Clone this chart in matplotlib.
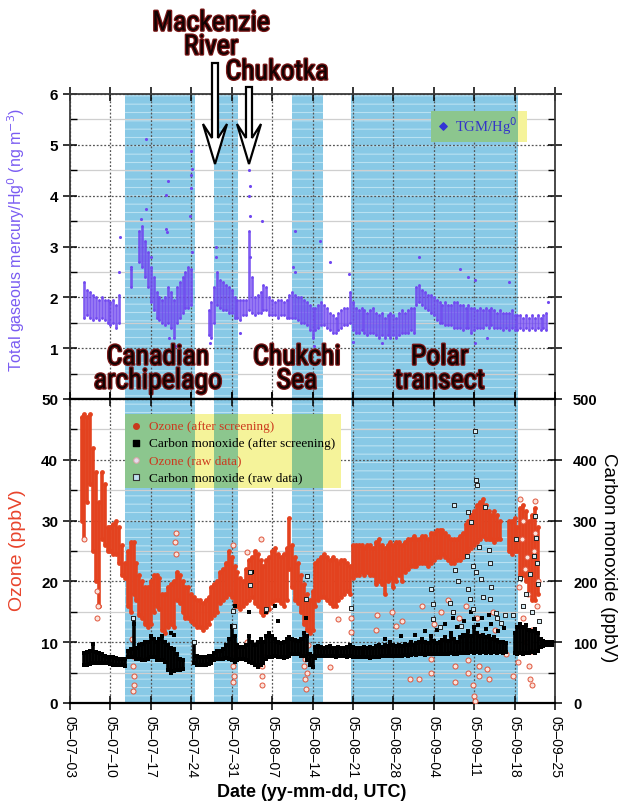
import matplotlib
matplotlib.use("Agg")
import matplotlib.pyplot as plt
import matplotlib.patheffects as pe
from matplotlib.patches import Rectangle, FancyArrow
from matplotlib.ticker import MultipleLocator
from matplotlib import font_manager
from matplotlib.font_manager import FontProperties

_names = {f.name for f in font_manager.fontManager.ttflist}
SANS = "Liberation Sans" if "Liberation Sans" in _names else "DejaVu Sans"
SERIF = "Liberation Serif" if "Liberation Serif" in _names else "DejaVu Serif"

# find a condensed / narrow sans-serif font file for the big annotations
_cond = None
_prefs = ["liberationsansnarrow-regular", "notosans-condensed.", "notosans-condensed",
          "robotocondensed-regular", "robotocondensed", "opensans-condensedregular",
          "opensans_condensed-regular", "opensans-condensed", "notosans-semicondensed.",
          "liberationsansnarrow", "dejavusanscondensed.", "dejavusanscondensed",
          "condensed", "narrow"]
_files = [f.fname for f in font_manager.fontManager.ttflist]
for key in _prefs:
    hits = [p for p in _files if key in p.lower().replace(" ", "")
            and "italic" not in p.lower() and "oblique" not in p.lower()
            and "bold" not in p.lower() and "black" not in p.lower()
            and "light" not in p.lower() and "thin" not in p.lower()]
    if hits:
        _cond = sorted(hits, key=len)[0]
        break
_is_dejavu = _cond is not None and "dejavu" in _cond.lower()


def cond_font(size):
    if _cond is not None:
        return FontProperties(fname=_cond, size=size * (0.86 if _is_dejavu else 1.0))
    return FontProperties(family=[SANS], size=size * 0.8)


plt.rcParams["font.family"] = [SANS, "DejaVu Sans"]
plt.rcParams["hatch.linewidth"] = 0.8

# ---------------- data (x = days since 2005-07-03 00:00 UTC) ----------------
tick_days = [0, 7, 14, 21, 28, 35, 42, 49, 56, 63, 70, 77, 84]
tick_labels = ["05–07–03", "05–07–10", "05–07–17", "05–07–24", "05–07–31",
               "05–08–07", "05–08–14", "05–08–21", "05–08–28", "05–09–04",
               "05–09–11", "05–09–18", "05–09–25"]

region_start = [9.6, 25.0, 38.5, 48.7]
region_end = [21.6, 29.1, 43.9, 77.6]
region_names = ["Canadian\narchipelago", "Chukchi\nSea", "Polar\ntransect"]
region_label_day = [15.2, 39.3, 64.0]

# Total gaseous mercury (ng m-3): observed range per half-day
hg_day = [2.5, 3.0, 3.5, 4.0, 4.5, 5.0, 5.5, 6.0, 6.5, 7.0, 7.5, 8.0, 8.5, 10.5,
          12.0, 12.5, 13.0, 13.5, 14.0, 14.5, 15.0, 15.5, 16.0, 16.5, 17.0, 17.5, 18.0,
          18.5, 19.0, 19.5, 20.0, 20.5, 21.0,
          24.0, 24.5, 25.0, 25.5, 26.0, 26.5, 27.0, 27.5, 28.0, 28.5, 29.0, 29.5, 30.0,
          30.5, 31.0, 31.5, 32.0, 32.5, 33.0, 33.5, 34.0, 34.5, 35.0, 35.5, 36.0, 36.5,
          37.0, 37.5, 38.0, 38.5, 39.0, 39.5, 40.0, 40.5, 41.0, 41.5, 42.0, 42.5, 43.0,
          43.5, 44.0, 44.5, 45.0, 45.5, 46.0, 46.5, 47.0, 47.5, 48.0, 48.5, 49.0, 49.5,
          50.0, 50.5, 51.0, 51.5, 52.0, 52.5, 53.0, 53.5, 54.0, 54.5, 55.0, 55.5, 56.0,
          56.5, 57.0, 57.5, 58.0, 58.5, 59.0, 59.5, 60.0, 60.5, 61.0, 61.5, 62.0, 62.5,
          63.0, 63.5, 64.0, 64.5, 65.0, 65.5, 66.0, 66.5, 67.0, 67.5, 68.0, 68.5, 69.0,
          69.5, 70.0, 70.5, 71.0, 71.5, 72.0, 72.5, 73.0, 73.5, 74.0, 74.5, 75.0, 75.5,
          76.0, 76.5, 77.0, 77.5, 78.0, 78.5, 79.0, 79.5, 80.0, 80.5, 81.0, 81.5, 82.0,
          82.5]
hg_lo = [1.6, 1.65, 1.6, 1.55, 1.6, 1.55, 1.6, 1.55, 1.5, 1.45, 1.5, 1.4, 1.5, 2.2,
         2.7, 2.6, 2.4, 2.2, 1.9, 1.75, 1.6, 1.55, 1.5, 1.45, 1.5, 1.4, 1.2,
         1.5, 1.6, 1.7, 1.8, 1.8, 1.85,
         1.25, 1.2, 1.5, 1.85, 1.8, 1.75, 1.75, 1.7, 1.7, 1.6, 1.6, 1.55, 1.65,
         1.65, 1.75, 1.7, 1.65, 1.7, 1.7, 1.75, 1.75, 1.65, 1.65, 1.65, 1.6, 1.65,
         1.65, 1.6, 1.6, 1.6, 1.6, 1.55, 1.5, 1.5, 1.45, 1.35, 1.2, 1.35, 1.4,
         1.45, 1.45, 1.4, 1.35, 1.3, 1.3, 1.35, 1.4, 1.45, 1.45, 1.5, 1.35, 1.3,
         1.3, 1.35, 1.3, 1.25, 1.3, 1.3, 1.25, 1.2, 1.25, 1.2, 1.25, 1.2, 1.25,
         1.2, 1.25, 1.3, 1.3, 1.3, 1.35, 1.3, 1.85, 1.9, 1.85, 1.8, 1.75, 1.7,
         1.65, 1.55, 1.5, 1.5, 1.45, 1.45, 1.45, 1.4, 1.4, 1.4, 1.35, 1.4, 1.4,
         1.3, 1.35, 1.4, 1.4, 1.4, 1.45, 1.4, 1.45, 1.4, 1.4, 1.4, 1.35, 1.4,
         1.35, 1.4, 1.35, 1.35, 1.4, 1.35, 1.4, 1.35, 1.4, 1.35, 1.4, 1.35, 1.4,
         1.35]
hg_hi = [2.3, 2.15, 2.1, 2.05, 2.0, 1.95, 2.0, 1.95, 1.95, 1.9, 1.95, 1.85, 2.05, 2.55,
         3.3, 3.4, 3.1, 2.9, 2.6, 2.4, 2.1, 2.0, 1.95, 2.0, 2.2, 2.1, 1.95,
         2.2, 2.3, 2.4, 2.5, 2.6, 2.55,
         1.75, 1.9, 2.2, 2.5, 2.35, 2.3, 2.25, 2.2, 2.15, 2.0, 1.95, 1.95, 1.95,
         1.95, 3.3, 2.4, 2.0, 2.05, 2.1, 2.25, 2.2, 2.0, 1.95, 1.9, 1.95, 1.95,
         1.9, 1.95, 2.05, 2.1, 2.05, 2.0, 2.0, 1.95, 1.9, 1.85, 1.8, 1.8, 1.85,
         1.9, 1.85, 1.8, 1.7, 1.65, 1.6, 1.7, 1.75, 1.8, 1.8, 2.1, 1.9, 1.8,
         1.75, 1.8, 1.75, 1.7, 1.75, 1.8, 1.7, 1.65, 1.7, 1.6, 1.65, 1.7, 1.65,
         1.6, 1.7, 1.75, 1.7, 1.75, 1.8, 1.8, 2.2, 2.25, 2.15, 2.1, 2.05, 2.05,
         2.0, 1.95, 1.9, 1.85, 1.9, 1.85, 1.85, 1.9, 1.9, 1.85, 1.85, 1.8, 1.85,
         1.8, 1.8, 1.75, 1.8, 1.75, 1.8, 1.75, 1.8, 1.75, 1.7, 1.75, 1.7, 1.7,
         1.7, 1.75, 1.65, 1.65, 1.65, 1.6, 1.65, 1.6, 1.65, 1.6, 1.65, 1.6, 1.65,
         1.7]
hg_spike_day = [8.65, 8.5, 10.6, 13.2, 13.2, 16.7, 16.9, 16.8, 16.7, 17.2, 18.2, 21.0, 21.0,
                20.9, 20.8, 21.2, 21.1, 24.3, 25.2, 25.3, 29.5, 31.0, 31.0, 31.1, 31.2,
                31.1, 33.3, 38.6, 38.9, 39.0, 42.2, 43.3, 45.0, 48.4, 49.0, 54.0, 60.5,
                67.6, 69.0, 70.1, 70.2, 72.3, 76.1, 82.8, 12.3, 14.0]
hg_spike_val = [3.18, 2.5, 2.6, 5.11, 3.73, 3.35, 4.29, 3.28, 4.01, 1.2, 1.05, 4.88, 4.4,
                4.16, 3.6, 2.9, 4.52, 1.1, 3.0, 2.8, 1.3, 4.5, 4.0, 3.6, 2.8,
                4.2, 3.5, 2.6, 3.3, 2.5, 1.05, 3.1, 2.7, 2.45, 1.12, 1.1, 2.8,
                2.56, 2.4, 2.35, 1.1, 1.2, 2.3, 1.9, 3.55, 2.8]

# Ozone (ppbV): observed range per half-day (screened data)
o3_day = [2.0, 2.5, 3.0, 3.5, 4.0, 4.5, 5.0, 5.5, 6.0, 6.5, 7.0, 7.5, 8.0, 8.5, 9.0, 9.5,
          10.0, 10.5, 11.0, 11.5, 12.0, 12.5, 13.0, 13.5, 14.0, 14.5, 15.0, 15.5, 16.0,
          16.5, 17.0, 17.5, 18.0, 18.5, 19.0, 19.5, 20.0, 20.5, 21.0, 21.5, 22.0, 22.5,
          23.0, 23.5, 24.0, 24.5, 25.0, 25.5, 26.0, 26.5, 27.0, 27.5, 28.0, 28.5, 29.0,
          29.5, 30.0, 30.5, 31.0, 31.5, 32.0, 32.5, 33.0, 33.5, 34.0, 34.5, 35.0, 35.5,
          36.0, 36.5, 37.0, 37.5, 38.0, 38.5, 39.0, 39.5, 40.0, 40.5, 41.0, 41.5, 42.0,
          42.5, 43.0, 43.5, 44.0, 44.5, 45.0, 45.5, 46.0, 46.5, 47.0, 47.5, 48.0, 48.5,
          49.0, 49.5, 50.0, 50.5, 51.0, 51.5, 52.0, 52.5, 53.0, 53.5, 54.0, 54.5, 55.0,
          55.5, 56.0, 56.5, 57.0, 57.5, 58.0, 58.5, 59.0, 59.5, 60.0, 60.5, 61.0, 61.5,
          62.0, 62.5, 63.0, 63.5, 64.0, 64.5, 65.0, 65.5, 66.0, 66.5, 67.0, 67.5, 68.0,
          68.5, 69.0, 69.5, 70.0, 70.5, 71.0, 71.5, 72.0, 72.5, 73.0, 73.5, 74.0, 74.5,
          76.0, 76.5, 77.0, 77.5, 78.0, 78.5, 79.0, 79.5, 80.0, 80.5, 81.0]
o3_lo = [30, 27, 33, 36, 25, 20, 16, 27, 26, 25, 25, 24.5, 24.5, 23, 21, 20.5,
         16, 15, 18, 17, 14.5, 14, 13, 12.5, 13, 15, 16, 15.5, 12,
         11.5, 12.5, 13, 12.5, 17, 16.5, 15, 14, 14, 13.5, 13, 12.5, 12.5,
         12, 12.5, 13, 14, 14.5, 15, 16.5, 17, 17.5, 18, 17.5, 16, 16,
         15.5, 16, 16.5, 17, 17.5, 16.5, 16, 15, 14.5, 15, 15.5, 16.5, 17,
         17, 16.5, 16, 17, 22, 19, 17, 16.5, 15, 13, 12, 11.5, 12,
         16, 17, 17.5, 17.5, 17, 16.5, 16, 16, 17, 17.5, 18, 18.5, 18,
         20.5, 21, 21, 21.5, 21, 21.5, 21, 21, 19.5, 20, 19.5, 18, 20,
         20.5, 19, 20, 21, 20, 21.5, 22, 22.5, 22.5, 22.5, 23, 23, 23,
         22.5, 23, 23.5, 24, 24, 24.5, 24, 23.5, 23, 23, 23.5, 23.5, 24,
         24.5, 25, 25.5, 26, 26.5, 27, 27.5, 27, 27, 27, 26.5, 27, 27,
         25, 24.5, 25, 25, 21, 21, 20, 18, 17, 17, 18]
o3_hi = [47, 47.5, 47, 47.5, 42, 38, 33, 38, 36, 29, 29, 29.5, 30, 29, 26, 23,
         25, 26.5, 26.5, 23, 21, 20, 19, 19, 20, 21, 21, 20.5, 18,
         18, 19, 19.5, 20, 21.5, 21, 20, 19, 19, 18, 17.5, 17, 17,
         16.5, 17, 17.5, 19, 19.5, 20, 21.5, 22, 23, 25, 24, 22.5, 21.5,
         20.5, 20, 22, 23.5, 24, 25, 24.5, 23.5, 22.5, 23.5, 24, 25, 25.5,
         24.5, 24, 24.5, 25.5, 30.5, 26, 24, 23, 21, 19.5, 18, 17, 18.5,
         23, 23.5, 24, 24.5, 24, 23.5, 24, 23.5, 23, 23.5, 23.5, 23, 22.5,
         26, 26, 26, 26, 25.5, 26, 26, 25.5, 26.5, 27, 26, 25.5, 26,
         26.5, 26, 26.5, 26.5, 26, 26.5, 27, 27, 27.5, 27, 27, 27.5, 27.5,
         27, 28, 28, 28.5, 28.5, 28.5, 28, 27.5, 27, 27, 27, 27.5, 28,
         29.5, 30, 31, 31.5, 32.5, 33, 33.5, 32.5, 31.5, 31, 31.5, 31, 30,
         30, 30, 30.5, 29, 32, 32.5, 31.5, 30, 31, 32, 29]

# Ozone raw data (points removed by screening)
o3raw_day = [2.4, 4.6, 4.8, 4.6, 10.7, 10.9, 10.9, 11.0, 11.0, 10.9, 18.3, 18.2, 18.3,
             28.3, 28.3, 28.4, 28.3, 33.2, 33.2, 33.3, 33.3, 30.6, 30.6, 33.1, 28.2,
             40.6, 40.7, 40.8, 40.7, 41.0, 41.2, 45.1, 46.5, 48.6, 48.6, 53.0, 53.2,
             55.8, 56.5, 57.5, 58.9, 60.5, 61.0, 62.6, 62.6, 63.0, 64.2, 65.5, 66.6,
             66.6, 67.3, 68.5, 68.9, 69.0, 69.8, 70.0, 70.1, 70.5, 70.9, 70.9, 71.0,
             72.3, 72.5, 73.2, 73.6, 75.5, 76.7, 77.6, 77.9, 78.2, 78.5, 78.8, 79.0,
             79.3, 79.5, 79.7, 80.0, 80.3, 80.5, 80.8, 81.0, 78.4, 79.2, 80.1, 80.6,
             77.8, 79.9]
o3raw_val = [27, 14, 16, 18.5, 10.5, 7.8, 6.1, 4.5, 2.9, 2.0, 28, 26.5, 24.5,
             8.3, 6.1, 4.5, 3.4, 7.8, 6.1, 4.5, 2.9, 10, 24.8, 27, 26,
             6.1, 3.9, 2.3, 7.2, 5.0, 9.5, 5.9, 13.8, 11.6, 14, 12, 14.5,
             15, 12.7, 13.5, 3.9, 3.9, 16, 7.2, 5.0, 13, 15, 17, 6.1,
             3.4, 14, 16, 7.0, 5.0, 2.9, 1.2, 0.4, 14, 6.1, 4.5, 11,
             5.6, 3.9, 15, 12, 8, 4.5, 6.7, 33.5, 27, 14, 22, 10,
             18, 6.1, 3.9, 2.9, 25, 33.3, 16, 20, 30, 24, 12, 28,
             19, 8.5]

# Carbon monoxide (ppbV): observed range per half-day (screened data)
co_day = [2.5, 3.0, 3.5, 4.0, 4.5, 5.0, 5.5, 6.0, 6.5, 7.0, 7.5, 8.0, 8.5, 9.0, 9.5,
          10.0, 10.5, 11.0, 11.5, 12.0, 12.5, 13.0, 13.5, 14.0, 14.5, 15.0, 15.5, 16.0,
          16.5, 17.0, 17.5, 18.0, 18.5, 19.0, 19.5, 21.5, 22.0, 22.5, 23.0, 23.5, 24.0,
          24.5, 25.0, 25.5, 26.0, 26.5, 27.0, 27.5, 28.0, 28.5, 29.0, 29.5, 30.0, 30.5,
          31.0, 31.5, 32.0, 32.5, 33.0, 33.5, 34.0, 34.5, 35.0, 35.5, 36.0, 36.5, 37.0,
          37.5, 38.0, 38.5, 39.0, 39.5, 40.0, 40.5, 41.0, 41.5, 42.0, 42.5, 43.0, 43.5,
          44.0, 44.5, 45.0, 45.5, 46.0, 46.5, 47.0, 47.5, 48.0, 48.5, 49.0, 49.5, 50.0,
          50.5, 51.0, 51.5, 52.0, 52.5, 53.0, 53.5, 54.0, 54.5, 55.0, 55.5, 56.0, 56.5,
          57.0, 57.5, 58.0, 58.5, 59.0, 59.5, 60.0, 60.5, 61.0, 61.5, 62.0, 62.5, 63.0,
          63.5, 64.0, 64.5, 65.0, 65.5, 66.0, 66.5, 67.0, 67.5, 68.0, 68.5, 69.0, 69.5,
          70.0, 70.5, 71.0, 71.5, 72.0, 72.5, 73.0, 73.5, 74.0, 74.5, 75.0, 75.5, 77.0,
          77.5, 78.0, 78.5, 79.0, 79.5, 80.0, 80.5, 81.0, 81.5, 82.0, 82.5, 83.0, 83.5]
co_lo = [62, 63, 64, 65, 66, 66, 66, 65, 65, 64, 63, 63, 62, 62, 61,
         75, 76, 75, 72, 72, 70, 70, 72, 75, 75, 70, 70, 70,
         68, 55, 50, 52, 55, 55, 56, 65, 63, 62, 62, 63, 64,
         66, 70, 72, 73, 73, 74, 72, 70, 68, 70, 72, 72, 70,
         68, 66, 62, 60, 62, 65, 72, 75, 76, 78, 76, 75, 74,
         76, 78, 80, 80, 80, 78, 78, 70, 62, 60, 74, 77, 78,
         78, 77, 78, 77, 76, 77, 78, 77, 76, 77, 75, 76, 75,
         76, 76, 75, 74, 76, 75, 76, 77, 78, 77, 78, 78, 77,
         78, 78, 79, 78, 79, 80, 79, 80, 80, 79, 80, 80, 81,
         80, 81, 80, 81, 80, 82, 81, 80, 82, 82, 83, 82, 84,
         83, 84, 83, 84, 83, 84, 82, 84, 83, 84, 83, 84, 82,
         80, 82, 80, 83, 82, 84, 83, 85, 92, 94, 95, 95, 96]
co_hi = [82, 84, 86, 97, 84, 82, 80, 78, 76, 76, 75, 74, 73, 72, 72,
         85, 88, 140, 90, 95, 97, 100, 100, 110, 105, 100, 105, 110,
         100, 95, 90, 88, 80, 72, 70, 100, 78, 76, 75, 76, 77,
         78, 82, 85, 86, 88, 95, 105, 125, 110, 95, 92, 92, 95,
         110, 100, 95, 100, 105, 100, 110, 115, 110, 105, 100, 98, 100,
         105, 108, 105, 103, 102, 105, 115, 110, 80, 78, 92, 93, 92,
         90, 92, 93, 90, 90, 92, 91, 90, 92, 95, 92, 90, 91,
         90, 92, 91, 92, 90, 93, 95, 92, 96, 93, 100, 95, 93,
         96, 94, 97, 95, 100, 96, 98, 100, 105, 100, 98, 110, 102,
         98, 100, 104, 108, 102, 110, 105, 100, 108, 112, 110, 118, 110,
         125, 115, 110, 112, 108, 110, 105, 108, 104, 100, 100, 98, 115,
         125, 130, 125, 128, 120, 118, 122, 115, 105, 102, 101, 100, 100]
# CO screened spikes
cospk_day = [10.9, 11.0, 17.5, 18.0, 28.0, 28.3, 31.0, 34.0, 35.5, 40.9, 40.8, 61.5,
             63.5, 65.0, 66.3, 67.0, 68.2, 69.4, 70.6, 71.3, 72.1, 73.0, 74.2, 75.1,
             66.0, 68.8, 70.0, 72.6, 57.3, 54.6, 59.8, 36.0, 31.6, 28.6]
cospk_val = [140, 130, 115, 112, 127, 150, 150, 150, 160, 140, 170, 118,
             120, 130, 140, 125, 135, 150, 128, 140, 122, 130, 118, 124,
             115, 112, 138, 145, 110, 106, 112, 135, 215, 160]
# CO raw data (points removed by screening)
coraw_day = [70.1, 70.4, 70.5, 66.5, 68.9, 69.5, 71.9, 72.5, 72.8, 70.9, 68.8, 69.8,
             70.4, 71.2, 72.8, 66.6, 62.6, 62.8, 62.9, 66.4, 67.8, 68.9, 69.3, 69.8,
             75.3, 80.5, 80.7, 80.9, 81.0, 80.3, 48.6, 41.1, 40.9, 31.1, 31.1, 28.3,
             34.0, 28.4, 73.7, 74.0, 78.0, 79.0, 78.5, 80.0, 81.2, 73.0, 71.6, 67.2,
             64.0, 65.8, 76.8, 77.3, 79.6, 10.9, 21.4, 74.6]
coraw_val = [448, 366, 359, 326, 314, 298, 323, 251, 231, 256, 242, 226,
             215, 204, 171, 218, 187, 163, 138, 149, 127, 187, 171, 155,
             144, 308, 272, 231, 196, 242, 156, 209, 171, 216, 194, 152,
             155, 127, 148, 140, 205, 180, 160, 150, 135, 190, 175, 200,
             125, 165, 145, 270, 212, 140, 100, 132]

# ---------------- figure ----------------
HG = "#7048f0"
O3 = "#e3421f"
SPAN = "#88c9e6"

fig = plt.figure(figsize=(6.19, 8.04), dpi=100)
L, W = 70 / 619, 485 / 619
ax1 = fig.add_axes([L, 1 - 400 / 804, W, 305 / 804])
ax2 = fig.add_axes([L, 1 - 704 / 804, W, 304 / 804])
ax2r = ax2.twinx()

for ax in (ax1, ax2):
    ax.set_xlim(0, 84)
    ax.set_axisbelow(True)
    for s, e in zip(region_start, region_end):
        ax.axvspan(s, e, facecolor=SPAN, edgecolor="#b9e1f2", hatch="--",
                   lw=0, zorder=0.2)
    ax.set_xticks(tick_days)
    ax.grid(which="major", linestyle=(0, (1.5, 1.5)), color="#555555", lw=0.9)
    ax.tick_params(which="major", direction="inout", length=10, width=1.1,
                   top=True, right=True, labelsize=11)
    ax.tick_params(which="minor", direction="in", length=5, width=1.0, right=True)
    for sp in ax.spines.values():
        sp.set_color("#3a3a3a")
        sp.set_linewidth(1.3)

# ---- top panel: mercury ----
ax1.set_ylim(0, 6)
ax1.yaxis.set_major_locator(MultipleLocator(1))
ax1.yaxis.set_minor_locator(MultipleLocator(0.5))
ax1.grid(which="minor", axis="y", color="#cfcfcf", lw=0.9, linestyle="-")
ax1.set_yticks([1, 2, 3, 4, 5, 6])
ax1.set_xticklabels([])
ax1.spines["bottom"].set_color("black")
ax1.spines["bottom"].set_linewidth(1.6)

ax1.vlines(hg_day, hg_lo, hg_hi, color=HG, lw=1.9, alpha=0.9, zorder=3)
ax1.scatter(hg_day, hg_lo, s=4, color=HG, lw=0, zorder=3)
ax1.scatter(hg_day, hg_hi, s=4, color=HG, lw=0, zorder=3)
ax1.scatter(hg_spike_day, hg_spike_val, s=5, color=HG, lw=0, zorder=3)

# legend TGM
ax1.add_patch(Rectangle((62.6, 5.06), 79.2 - 62.6, 0.61, facecolor="#f5f39a",
                        edgecolor="none", zorder=4))
ax1.add_patch(Rectangle((62.6, 5.06), 77.6 - 62.6, 0.61, facecolor="#8cc68e",
                        edgecolor="none", zorder=4))
ax1.scatter([64.6], [5.38], marker="D", s=14, color="#3434d6", zorder=5)
ax1.text(66.6, 5.38, "TGM/Hg$^0$", color="#3434c8", fontsize=10.5,
         family=[SERIF], va="center", ha="left", zorder=5)

outline = [pe.withStroke(linewidth=1.8, foreground="#7a1616")]
for name, d in zip(region_names, region_label_day):
    ax1.text(d, 0.59, name, ha="center", va="center", fontproperties=cond_font(20),
             color="#120303", linespacing=0.85, path_effects=outline, zorder=6)

# ---- bottom panel: ozone & CO ----
ax2.set_ylim(0, 50)
ax2.yaxis.set_major_locator(MultipleLocator(10))
ax2.yaxis.set_minor_locator(MultipleLocator(5))
ax2.grid(which="minor", axis="y", color="#cfcfcf", lw=0.9, linestyle="-")
ax2.set_xticklabels(tick_labels, rotation=270, fontsize=10)
ax2.tick_params(axis="x", pad=4)
ax2.tick_params(axis="y", right=False, which="both")
ax2.spines["bottom"].set_color("black")
ax2.spines["bottom"].set_linewidth(1.6)
ax2.spines["top"].set_color("black")
ax2.spines["top"].set_linewidth(1.6)

ax2.vlines(o3_day, o3_lo, o3_hi, color=O3, lw=2.6, zorder=3)
ax2.scatter(o3_day, o3_lo, s=12, color=O3, lw=0, zorder=3)
ax2.scatter(o3_day, o3_hi, s=12, color=O3, lw=0, zorder=3)
ax2.scatter(o3raw_day, o3raw_val, s=13, facecolors="#fbe4dc", edgecolors="#e0553c",
            lw=0.7, zorder=3)

ax2r.set_ylim(0, 500)
ax2r.yaxis.set_major_locator(MultipleLocator(100))
ax2r.yaxis.set_minor_locator(MultipleLocator(50))
ax2r.tick_params(which="major", direction="inout", length=10, width=1.1, labelsize=10.5,
                 pad=8)
ax2r.tick_params(which="minor", direction="in", length=5, width=1.0)
for sp in ax2r.spines.values():
    sp.set_visible(False)
ax2r.vlines(co_day, co_lo, co_hi, color="black", lw=2.6, zorder=3)
ax2r.scatter(co_day, co_lo, s=11, marker="s", color="black", lw=0, zorder=3)
ax2r.scatter(co_day, co_hi, s=11, marker="s", color="black", lw=0, zorder=3)
ax2r.scatter(cospk_day, cospk_val, s=11, marker="s", color="black", lw=0, zorder=3)
ax2r.scatter(coraw_day, coraw_val, s=12, marker="s", facecolors="#d8ecf4",
             edgecolors="#222222", lw=0.7, zorder=3)

# bottom legend background (semi-transparent yellow over blue spans -> green)
ax2.add_patch(Rectangle((9.6, 35.4), 47.0 - 9.6, 12.1, facecolor="#f5f39a",
                        edgecolor="none", zorder=4))
for s, e in zip(region_start, region_end):
    a, b = max(s, 9.6), min(e, 47.0)
    if b > a:
        ax2.add_patch(Rectangle((a, 35.4), b - a, 12.1, facecolor="#8cc68e",
                                edgecolor="none", zorder=4))
leg_y = [45.6, 42.8, 40.0, 37.1]
leg_txt = ["Ozone (after screening)", "Carbon monoxide (after screening)",
           "Ozone (raw data)", "Carbon monoxide (raw data)"]
leg_col = ["#cc3a1e", "black", "#cc3a1e", "black"]
ax2.scatter([11.4], [leg_y[0]], s=16, color="#c8381c", zorder=5)
ax2.scatter([11.4], [leg_y[1]], s=14, marker="s", color="black", zorder=5)
ax2.scatter([11.4], [leg_y[2]], s=16, facecolors="#e6dcef", edgecolors="#d8a8a8",
            lw=0.8, zorder=5)
ax2.scatter([11.4], [leg_y[3]], s=14, marker="s", facecolors="#bfe0ef",
            edgecolors="#333333", lw=0.8, zorder=5)
for yy, t, c in zip(leg_y, leg_txt, leg_col):
    ax2.text(13.7, yy, t, color=c, fontsize=9.5, family=[SERIF], va="center",
             ha="left", zorder=5)

for lab in ax1.get_yticklabels() + ax2.get_yticklabels() + ax2r.get_yticklabels():
    lab.set_fontweight("bold")

# ---- axis titles ----
fig.text(16 / 619, 1 - 240 / 804, "Total gaseous mercury/Hg$^0$ (ng m$^{-3}$)",
         rotation=90, color="#7a5cf2", fontsize=11.5, ha="center", va="center")
fig.text(18 / 619, 1 - 550 / 804, "Ozone (ppbV)", rotation=90, color="#e8442c",
         fontsize=14, ha="center", va="center")
fig.text(608 / 619, 1 - 558 / 804, "Carbon monoxide (ppbV)", rotation=270,
         color="black", fontsize=13.5, ha="center", va="center")
fig.text(312 / 619, 1 - 793 / 804, "Date (yy-mm-dd, UTC)", fontsize=13,
         fontweight="bold", ha="center", va="center")

# ---- event annotations ----
fig.text(211 / 619, 1 - 36 / 804, "Mackenzie\nRiver", ha="center", va="center",
         fontproperties=cond_font(20), color="#120303", linespacing=0.85,
         path_effects=outline)
fig.text(277 / 619, 1 - 73 / 804, "Chukotka", ha="center", va="center",
         fontproperties=cond_font(20), color="#120303", path_effects=outline)
for xa, ya in [(215, 64), (249, 88)]:
    fig.add_artist(FancyArrow(xa / 619, 1 - ya / 804, 0, -(165 - ya) / 804,
                              width=6 / 619, head_width=24 / 619,
                              head_length=40 / 804, length_includes_head=True,
                              overhang=0.35, facecolor="white", edgecolor="black",
                              lw=1.6, transform=fig.transFigure, zorder=10))

fig.savefig("out.png", dpi=100)
